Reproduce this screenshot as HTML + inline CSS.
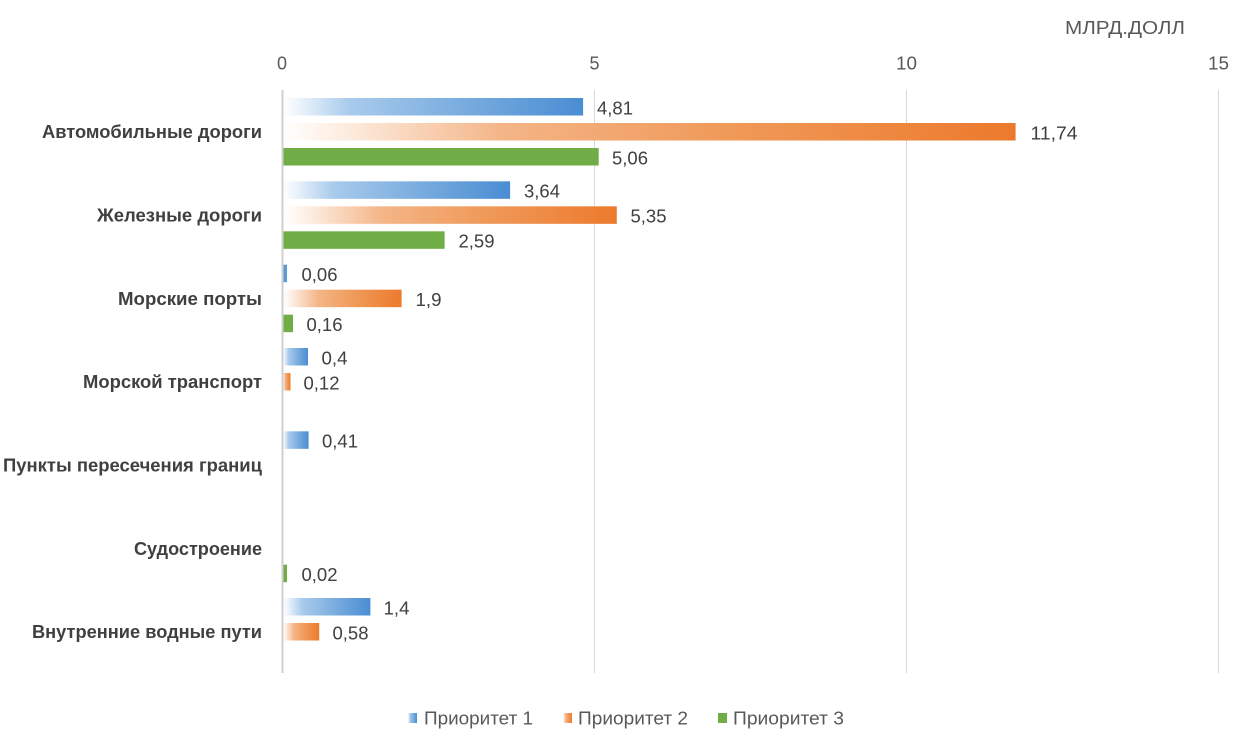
<!DOCTYPE html>
<html>
<head>
<meta charset="utf-8">
<style>
  html, body { margin:0; padding:0; background:#ffffff; }
  svg { display:block; }
  .cat { font-family:"Liberation Sans","Noto Sans CJK SC",sans-serif; font-weight:bold; font-size:18px; fill:#404040; }
  .val { font-family:"Liberation Sans","Noto Sans CJK SC",sans-serif; font-size:18px; fill:#404040; }
  .tick { font-family:"Liberation Sans","Noto Sans CJK SC",sans-serif; font-size:18px; fill:#595959; }
  .leg { font-family:"Liberation Sans","Noto Sans CJK SC",sans-serif; font-size:18px; fill:#595959; }
</style>
</head>
<body>
<svg width="1246" height="738" viewBox="0 0 1246 738" xmlns="http://www.w3.org/2000/svg">
  <defs>
    <linearGradient id="gb" x1="0" y1="0" x2="1" y2="0">
      <stop offset="0" stop-color="#ffffff"/>
      <stop offset="0.06" stop-color="#eaf2fb"/>
      <stop offset="0.22" stop-color="#a9cbec"/>
      <stop offset="0.55" stop-color="#7fb0e0"/>
      <stop offset="1" stop-color="#4a8dd3"/>
    </linearGradient>
    <linearGradient id="go" x1="0" y1="0" x2="1" y2="0">
      <stop offset="0" stop-color="#ffffff"/>
      <stop offset="0.08" stop-color="#fdede1"/>
      <stop offset="0.3" stop-color="#f4b587"/>
      <stop offset="0.6" stop-color="#f09a5a"/>
      <stop offset="1" stop-color="#ec7a2c"/>
    </linearGradient>
  </defs>

  <rect x="0" y="0" width="1246" height="738" fill="#ffffff"/>

  <!-- unit label -->
  <text class="tick" x="1065" y="34" textLength="120" lengthAdjust="spacingAndGlyphs">МЛРД.ДОЛЛ</text>

  <!-- tick labels -->
  <text class="tick" x="282" y="69.5" text-anchor="middle">0</text>
  <text class="tick" x="594.5" y="69.5" text-anchor="middle">5</text>
  <text class="tick" x="906.5" y="69.5" text-anchor="middle" textLength="21" lengthAdjust="spacingAndGlyphs">10</text>
  <text class="tick" x="1218.5" y="69.5" text-anchor="middle" textLength="21" lengthAdjust="spacingAndGlyphs">15</text>

  <!-- gridlines -->
  <line x1="594.5" y1="90" x2="594.5" y2="673" stroke="#d9d9d9" stroke-width="1"/>
  <line x1="906.5" y1="90" x2="906.5" y2="673" stroke="#d9d9d9" stroke-width="1"/>
  <line x1="1218.5" y1="90" x2="1218.5" y2="673" stroke="#d9d9d9" stroke-width="1"/>

  <!-- bars -->
  <rect x="283" y="98" width="300.1" height="17.5" fill="url(#gb)"/>
  <rect x="283" y="123" width="732.6" height="17.5" fill="url(#go)"/>
  <rect x="283" y="148" width="315.7" height="17.5" fill="#70ad47"/>

  <rect x="283" y="181.33" width="227.1" height="17.5" fill="url(#gb)"/>
  <rect x="283" y="206.33" width="333.8" height="17.5" fill="url(#go)"/>
  <rect x="283" y="231.33" width="161.6" height="17.5" fill="#70ad47"/>

  <rect x="283" y="264.67" width="4" height="17.5" fill="#5b9bd5"/>
  <rect x="283" y="289.67" width="118.6" height="17.5" fill="url(#go)"/>
  <rect x="283" y="314.67" width="10" height="17.5" fill="#70ad47"/>

  <rect x="283" y="348" width="25" height="17.5" fill="url(#gb)"/>
  <rect x="283" y="373" width="7.5" height="17.5" fill="url(#go)"/>

  <rect x="283" y="431.33" width="25.6" height="17.5" fill="url(#gb)"/>

  <rect x="283" y="564.67" width="4" height="17.5" fill="#70ad47"/>

  <rect x="283" y="598" width="87.4" height="17.5" fill="url(#gb)"/>
  <rect x="283" y="623" width="36.2" height="17.5" fill="url(#go)"/>

  <!-- axis line -->
  <line x1="282.5" y1="90" x2="282.5" y2="673" stroke="#cfcfcf" stroke-width="2"/>

  <!-- value labels -->
  <text class="val" x="597" y="114.3" textLength="36" lengthAdjust="spacingAndGlyphs">4,81</text>
  <text class="val" x="1030.5" y="139.3" textLength="47" lengthAdjust="spacingAndGlyphs">11,74</text>
  <text class="val" x="612" y="164.3" textLength="36" lengthAdjust="spacingAndGlyphs">5,06</text>

  <text class="val" x="524" y="197.6" textLength="36" lengthAdjust="spacingAndGlyphs">3,64</text>
  <text class="val" x="630.5" y="222.6" textLength="36" lengthAdjust="spacingAndGlyphs">5,35</text>
  <text class="val" x="458.5" y="247.6" textLength="36" lengthAdjust="spacingAndGlyphs">2,59</text>

  <text class="val" x="301.5" y="281" textLength="36" lengthAdjust="spacingAndGlyphs">0,06</text>
  <text class="val" x="415.5" y="306" textLength="26" lengthAdjust="spacingAndGlyphs">1,9</text>
  <text class="val" x="306.5" y="331" textLength="36" lengthAdjust="spacingAndGlyphs">0,16</text>

  <text class="val" x="321.5" y="364.3" textLength="26" lengthAdjust="spacingAndGlyphs">0,4</text>
  <text class="val" x="303.5" y="389.3" textLength="36" lengthAdjust="spacingAndGlyphs">0,12</text>

  <text class="val" x="322" y="447.6" textLength="36" lengthAdjust="spacingAndGlyphs">0,41</text>

  <text class="val" x="301.5" y="581" textLength="36" lengthAdjust="spacingAndGlyphs">0,02</text>

  <text class="val" x="383.5" y="614.3" textLength="26" lengthAdjust="spacingAndGlyphs">1,4</text>
  <text class="val" x="332.5" y="639.3" textLength="36" lengthAdjust="spacingAndGlyphs">0,58</text>

  <!-- category labels -->
  <text class="cat" x="262" y="138.2" text-anchor="end" textLength="220" lengthAdjust="spacingAndGlyphs">Автомобильные дороги</text>
  <text class="cat" x="262" y="221.5" text-anchor="end" textLength="165" lengthAdjust="spacingAndGlyphs">Железные дороги</text>
  <text class="cat" x="262" y="304.8" text-anchor="end" textLength="144" lengthAdjust="spacingAndGlyphs">Морские порты</text>
  <text class="cat" x="262" y="388.2" text-anchor="end" textLength="179" lengthAdjust="spacingAndGlyphs">Морской транспорт</text>
  <text class="cat" x="262" y="471.5" text-anchor="end" textLength="259" lengthAdjust="spacingAndGlyphs">Пункты пересечения границ</text>
  <text class="cat" x="262" y="554.8" text-anchor="end" textLength="128" lengthAdjust="spacingAndGlyphs">Судостроение</text>
  <text class="cat" x="262" y="638.2" text-anchor="end" textLength="230" lengthAdjust="spacingAndGlyphs">Внутренние водные пути</text>

  <!-- legend -->
  <rect x="408" y="713" width="9" height="10" fill="url(#gb)"/>
  <text class="leg" x="424" y="724.5" textLength="109" lengthAdjust="spacingAndGlyphs">Приоритет 1</text>
  <rect x="563" y="713" width="9" height="10" fill="url(#go)"/>
  <text class="leg" x="578" y="724.5" textLength="110" lengthAdjust="spacingAndGlyphs">Приоритет 2</text>
  <rect x="718" y="713" width="9" height="10" fill="#70ad47"/>
  <text class="leg" x="733" y="724.5" textLength="111" lengthAdjust="spacingAndGlyphs">Приоритет 3</text>
</svg>
</body>
</html>
